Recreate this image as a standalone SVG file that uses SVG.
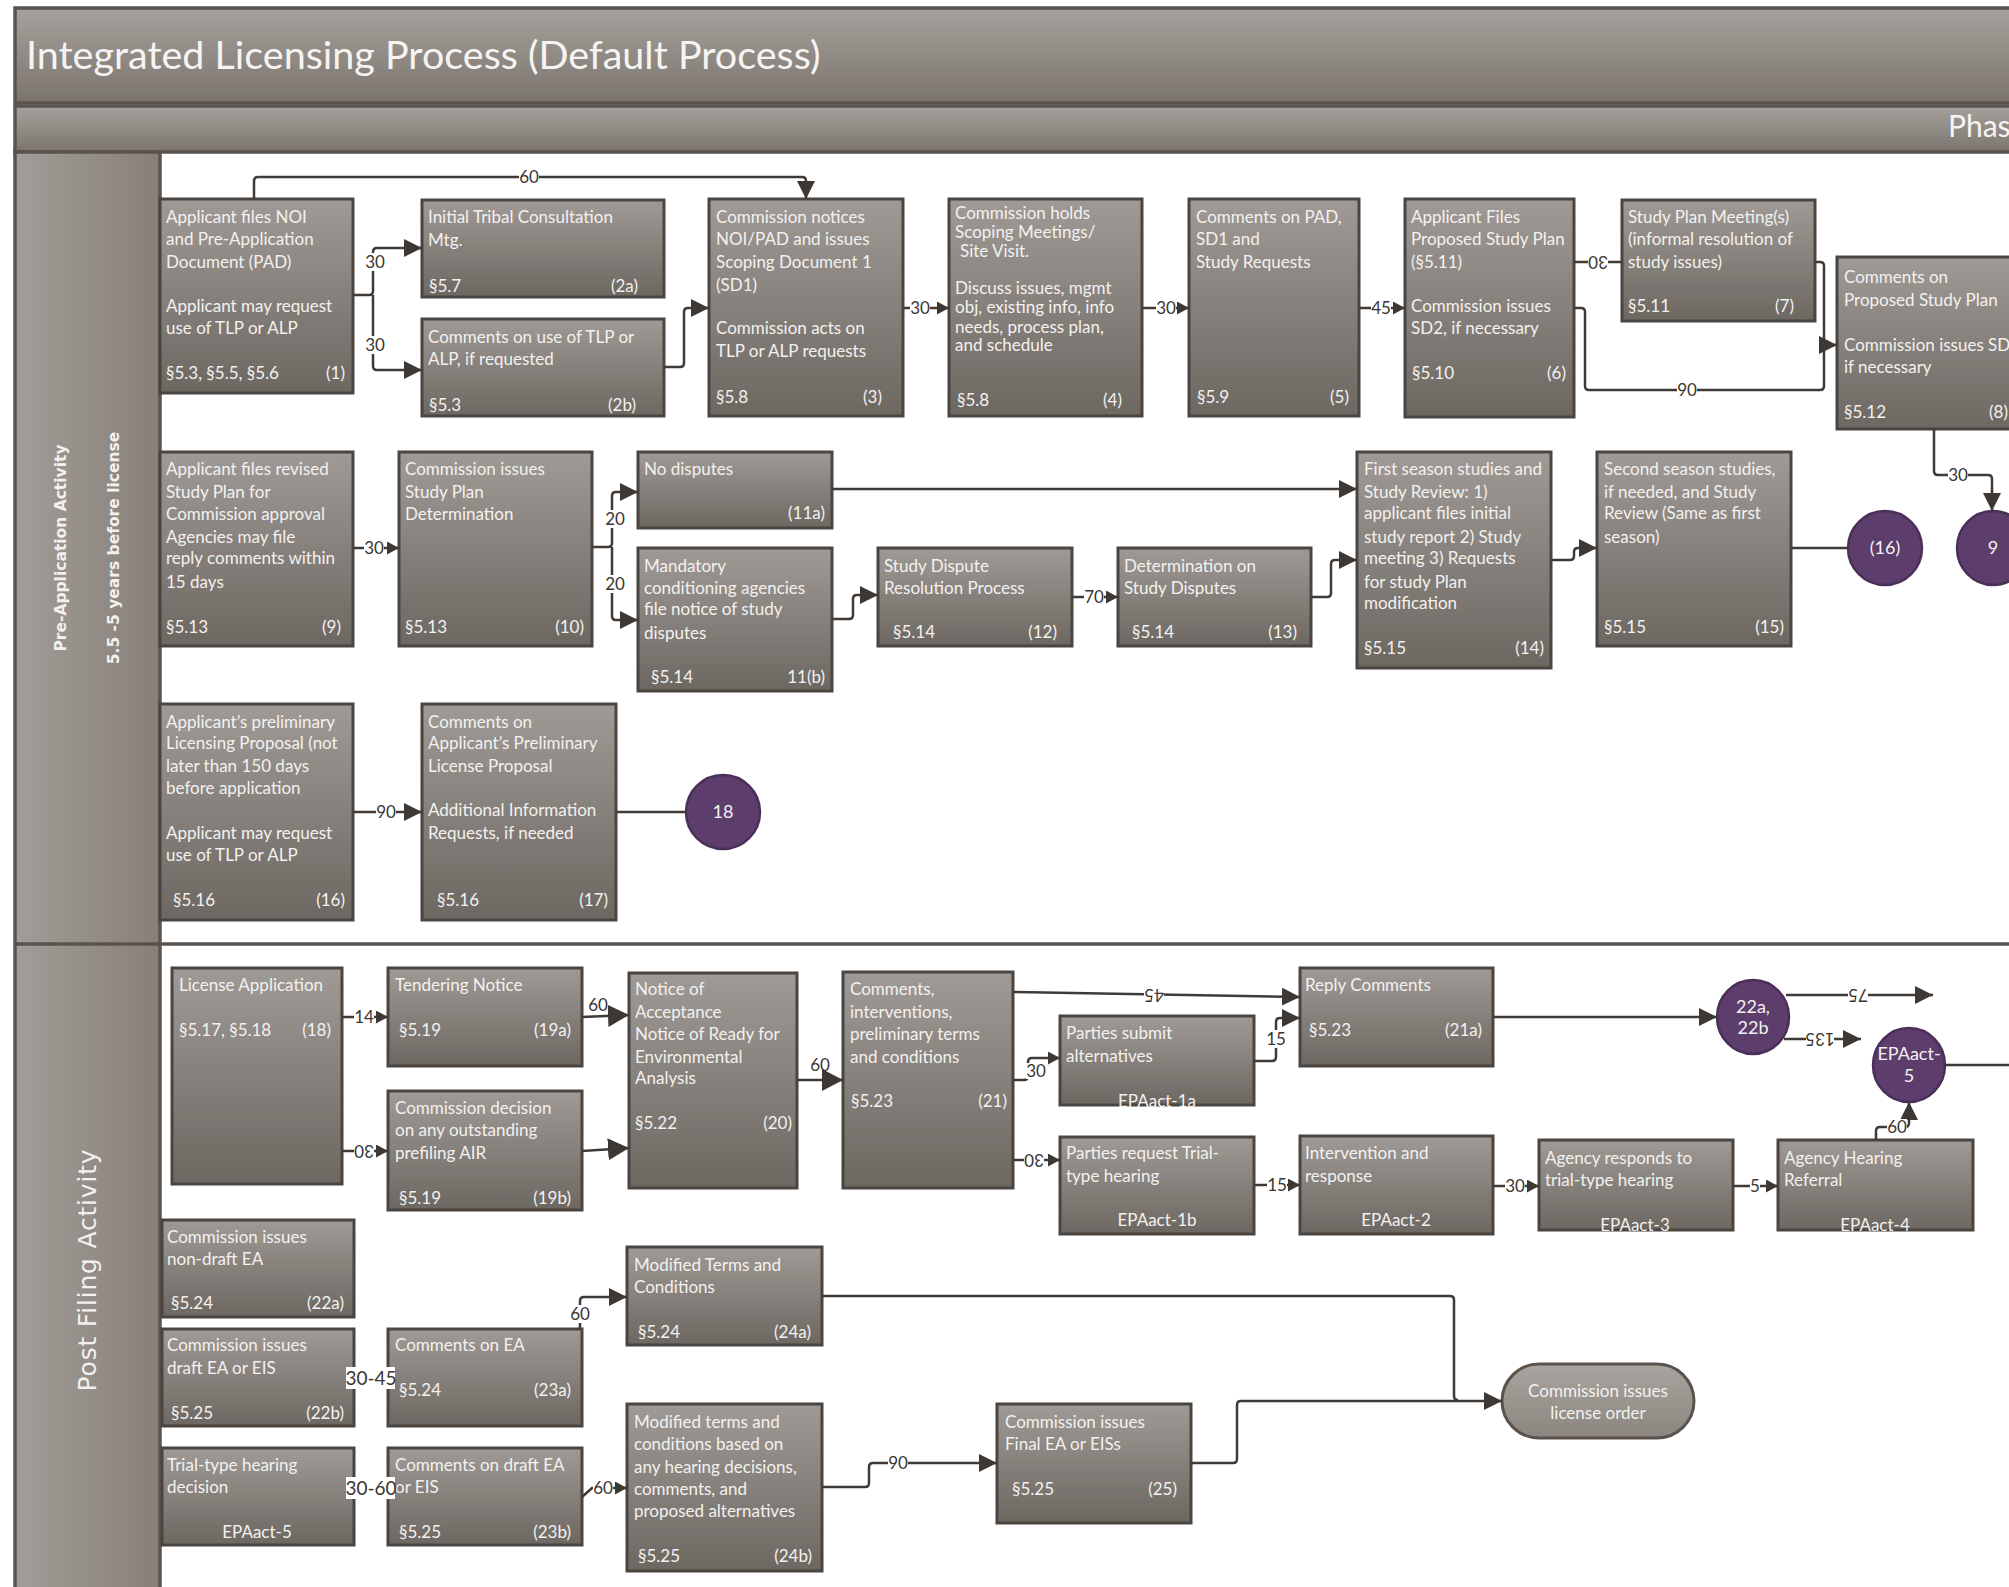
<svg xmlns="http://www.w3.org/2000/svg" width="2009" height="1587" viewBox="0 0 2009 1587">
<defs>
<linearGradient id="gN" x1="0" y1="0" x2="0" y2="1"><stop offset="0" stop-color="#9f9a95"/><stop offset="1" stop-color="#6d6762"/></linearGradient>
<linearGradient id="gT" x1="0" y1="0" x2="0" y2="1"><stop offset="0" stop-color="#a6a19c"/><stop offset="1" stop-color="#7b746e"/></linearGradient>
<linearGradient id="gL" x1="0" y1="0" x2="1" y2="0"><stop offset="0" stop-color="#a29d98"/><stop offset="1" stop-color="#877f7a"/></linearGradient>
<linearGradient id="gO" x1="0" y1="0" x2="0" y2="1"><stop offset="0" stop-color="#a9a49f"/><stop offset="1" stop-color="#8c857f"/></linearGradient>
<marker id="as" viewBox="0 0 12 13" refX="12" refY="6.5" markerWidth="12" markerHeight="13" markerUnits="userSpaceOnUse" orient="auto"><path d="M0,0 L12,6.5 L0,13 z" fill="#3d3834"/></marker>
<marker id="am" viewBox="0 0 18 18" refX="18" refY="9" markerWidth="18" markerHeight="18" markerUnits="userSpaceOnUse" orient="auto"><path d="M0,0 L18,9 L0,18 z" fill="#3d3834"/></marker>
<marker id="ab" viewBox="0 0 21 22" refX="21" refY="11" markerWidth="21" markerHeight="22" markerUnits="userSpaceOnUse" orient="auto"><path d="M0,0 L21,11 L0,22 z" fill="#3d3834"/></marker>
<style>
.n{fill:url(#gN);stroke:#4b4541;stroke-width:3}
.t{font-family:Lato,"Liberation Sans",sans-serif;font-size:17px;fill:#f3f1ef}
.r{text-anchor:end}
.m{text-anchor:middle}
.c{fill:none;stroke:#3f3a36;stroke-width:2.5}
.lb{font-family:Lato,"Liberation Sans",sans-serif;font-size:17px;fill:#3a3532;text-anchor:middle}
.bg{fill:#ffffff}
.ci{fill:#5d3d6c;stroke:#4a2f58;stroke-width:2.5}
.ct{font-family:Lato,"Liberation Sans",sans-serif;font-size:18px;fill:#f3f1ef;text-anchor:middle}
.bar{stroke:#5b534e;stroke-width:3.5}
</style>
</defs>
<rect x="0" y="0" width="2009" height="1587" fill="#ffffff"/>

<g id="frame">
<rect class="bar" x="15" y="8" width="2010" height="95" fill="url(#gT)"/>
<text x="26" y="69" font-family="Lato,'Liberation Sans',sans-serif" font-size="39.5" fill="#f6f4f2">Integrated Licensing Process (Default Process)</text>
<rect class="bar" x="15" y="106" width="2010" height="46" fill="url(#gT)"/>
<text x="1948" y="137" font-family="Lato,'Liberation Sans',sans-serif" font-size="30" fill="#f6f4f2">Phas</text>
<rect class="bar" x="15" y="152" width="145" height="1450" fill="url(#gL)"/>
<line x1="15" y1="944" x2="2009" y2="944" stroke="#5b534e" stroke-width="3.5"/>
<text transform="translate(66,548) rotate(-90)" text-anchor="middle" font-family="'DejaVu Sans',Verdana,sans-serif" font-weight="bold" font-size="15.5" fill="#f3f1ef">Pre-Application Activity</text>
<text transform="translate(119,548) rotate(-90)" text-anchor="middle" font-family="'DejaVu Sans',Verdana,sans-serif" font-weight="bold" font-size="15.5" fill="#f3f1ef">5.5 -5 years before license</text>
<text transform="translate(96,1270) rotate(-90)" text-anchor="middle" font-family="'DejaVu Sans',Verdana,sans-serif" font-size="25" letter-spacing="0.8" fill="#f3f1ef">Post Filing Activity</text>
</g>

<g id="n1"><rect class="n" x="160" y="199" width="193" height="194"/><text class="t"><tspan x="166" y="223">Applicant files NOI</tspan><tspan x="166" y="245">and Pre-Application</tspan><tspan x="166" y="268">Document (PAD)</tspan><tspan x="166" y="312">Applicant may request</tspan><tspan x="166" y="334">use of TLP or ALP</tspan><tspan x="166" y="379">§5.3, §5.5, §5.6</tspan></text><text class="t r" x="345" y="379">(1)</text></g>
<g id="n2a"><rect class="n" x="422" y="200" width="242" height="97"/><text class="t"><tspan x="428" y="223">Initial Tribal Consultation</tspan><tspan x="428" y="246">Mtg.</tspan><tspan x="429" y="292">§5.7</tspan></text><text class="t r" x="638" y="292">(2a)</text></g>
<g id="n2b"><rect class="n" x="422" y="319" width="242" height="97"/><text class="t"><tspan x="428" y="343">Comments on use of TLP or</tspan><tspan x="428" y="365">ALP, if requested</tspan><tspan x="429" y="411">§5.3</tspan></text><text class="t r" x="636" y="411">(2b)</text></g>
<g id="n3"><rect class="n" x="709" y="199" width="194" height="217"/><text class="t"><tspan x="716" y="223">Commission notices</tspan><tspan x="716" y="245">NOI/PAD and issues</tspan><tspan x="716" y="268">Scoping Document 1</tspan><tspan x="716" y="291">(SD1)</tspan><tspan x="716" y="334">Commission acts on</tspan><tspan x="716" y="357">TLP or ALP requests</tspan><tspan x="716" y="403">§5.8</tspan></text><text class="t r" x="882" y="403">(3)</text></g>
<g id="n4"><rect class="n" x="949" y="199" width="193" height="217"/><text class="t"><tspan x="955" y="219">Commission holds</tspan><tspan x="955" y="238">Scoping Meetings/</tspan><tspan x="960" y="257">Site Visit.</tspan><tspan x="955" y="294">Discuss issues, mgmt</tspan><tspan x="955" y="313">obj, existing info, info</tspan><tspan x="955" y="333">needs, process plan,</tspan><tspan x="955" y="351">and schedule</tspan><tspan x="957" y="406">§5.8</tspan></text><text class="t r" x="1122" y="406">(4)</text></g>
<g id="n5"><rect class="n" x="1189" y="199" width="170" height="217"/><text class="t"><tspan x="1196" y="223">Comments on PAD,</tspan><tspan x="1196" y="245">SD1 and</tspan><tspan x="1196" y="268">Study Requests</tspan><tspan x="1197" y="403">§5.9</tspan></text><text class="t r" x="1349" y="403">(5)</text></g>
<g id="n6"><rect class="n" x="1405" y="199" width="169" height="218"/><text class="t"><tspan x="1411" y="223">Applicant Files</tspan><tspan x="1411" y="245">Proposed Study Plan</tspan><tspan x="1411" y="268">(§5.11)</tspan><tspan x="1411" y="312">Commission issues</tspan><tspan x="1411" y="334">SD2, if necessary</tspan><tspan x="1412" y="379">§5.10</tspan></text><text class="t r" x="1566" y="379">(6)</text></g>
<g id="n7"><rect class="n" x="1622" y="200" width="193" height="121"/><text class="t"><tspan x="1628" y="223">Study Plan Meeting(s)</tspan><tspan x="1628" y="245">(informal resolution of</tspan><tspan x="1628" y="268">study issues)</tspan><tspan x="1628" y="312">§5.11</tspan></text><text class="t r" x="1794" y="312">(7)</text></g>
<g id="n8"><rect class="n" x="1837" y="257" width="200" height="172"/><text class="t"><tspan x="1844" y="283">Comments on</tspan><tspan x="1844" y="306">Proposed Study Plan</tspan><tspan x="1844" y="351">Commission issues SD</tspan><tspan x="1844" y="373">if necessary</tspan><tspan x="1844" y="418">§5.12</tspan><tspan x="1989" y="418">(8)</tspan></text></g>
<g id="c16"><ellipse class="ci" cx="1885" cy="548" rx="37" ry="37"/><text class="ct" x="1885" y="554">(16)</text></g>
<g id="c9"><ellipse class="ci" cx="1993" cy="548" rx="36" ry="37"/><text class="ct" x="1993" y="554">9</text></g>

<g id="n9"><rect class="n" x="160" y="452" width="193" height="194"/><text class="t"><tspan x="166" y="475">Applicant files revised</tspan><tspan x="166" y="498">Study Plan for</tspan><tspan x="166" y="520">Commission approval</tspan><tspan x="166" y="543">Agencies may file</tspan><tspan x="166" y="564">reply comments within</tspan><tspan x="166" y="588">15 days</tspan><tspan x="166" y="633">§5.13</tspan></text><text class="t r" x="341" y="633">(9)</text></g>
<g id="n10"><rect class="n" x="399" y="452" width="193" height="194"/><text class="t"><tspan x="405" y="475">Commission issues</tspan><tspan x="405" y="498">Study Plan</tspan><tspan x="405" y="520">Determination</tspan><tspan x="405" y="633">§5.13</tspan></text><text class="t r" x="584" y="633">(10)</text></g>
<g id="n11a"><rect class="n" x="638" y="452" width="194" height="76"/><text class="t" x="644" y="475">No disputes</text><text class="t r" x="825" y="519">(11a)</text></g>
<g id="n11b"><rect class="n" x="638" y="548" width="194" height="143"/><text class="t"><tspan x="644" y="572">Mandatory</tspan><tspan x="644" y="594">conditioning agencies</tspan><tspan x="644" y="615">file notice of study</tspan><tspan x="644" y="639">disputes</tspan><tspan x="651" y="683">§5.14</tspan></text><text class="t r" x="825" y="683">11(b)</text></g>
<g id="n12"><rect class="n" x="878" y="548" width="194" height="98"/><text class="t"><tspan x="884" y="572">Study Dispute</tspan><tspan x="884" y="594">Resolution Process</tspan><tspan x="893" y="638">§5.14</tspan></text><text class="t r" x="1057" y="638">(12)</text></g>
<g id="n13"><rect class="n" x="1118" y="548" width="193" height="98"/><text class="t"><tspan x="1124" y="572">Determination on</tspan><tspan x="1124" y="594">Study Disputes</tspan><tspan x="1132" y="638">§5.14</tspan></text><text class="t r" x="1297" y="638">(13)</text></g>
<g id="n14"><rect class="n" x="1357" y="452" width="194" height="216"/><text class="t"><tspan x="1364" y="475">First season studies and</tspan><tspan x="1364" y="498">Study Review: 1)</tspan><tspan x="1364" y="519">applicant files initial</tspan><tspan x="1364" y="543">study report 2)  Study</tspan><tspan x="1364" y="564">meeting 3) Requests</tspan><tspan x="1364" y="588">for study Plan</tspan><tspan x="1364" y="609">modification</tspan><tspan x="1364" y="654">§5.15</tspan></text><text class="t r" x="1544" y="654">(14)</text></g>
<g id="n15"><rect class="n" x="1597" y="452" width="194" height="194"/><text class="t"><tspan x="1604" y="475">Second season studies,</tspan><tspan x="1604" y="498">if needed, and Study</tspan><tspan x="1604" y="519">Review (Same as first</tspan><tspan x="1604" y="543">season)</tspan><tspan x="1604" y="633">§5.15</tspan></text><text class="t r" x="1784" y="633">(15)</text></g>

<g id="n16"><rect class="n" x="160" y="704" width="193" height="216"/><text class="t"><tspan x="166" y="728">Applicant’s preliminary</tspan><tspan x="166" y="749">Licensing Proposal (not</tspan><tspan x="166" y="772">later than 150 days</tspan><tspan x="166" y="794">before application</tspan><tspan x="166" y="839">Applicant may request</tspan><tspan x="166" y="861">use of TLP or ALP</tspan><tspan x="173" y="906">§5.16</tspan></text><text class="t r" x="345" y="906">(16)</text></g>
<g id="n17"><rect class="n" x="422" y="704" width="194" height="216"/><text class="t"><tspan x="428" y="728">Comments on</tspan><tspan x="428" y="749">Applicant’s Preliminary</tspan><tspan x="428" y="772">License Proposal</tspan><tspan x="428" y="816">Additional Information</tspan><tspan x="428" y="839">Requests, if needed</tspan><tspan x="437" y="906">§5.16</tspan></text><text class="t r" x="608" y="906">(17)</text></g>
<g id="c18"><ellipse class="ci" cx="723" cy="812" rx="37" ry="37"/><text class="ct" x="723" y="818">18</text></g>

<g id="n18"><rect class="n" x="172" y="968" width="170" height="216"/><text class="t"><tspan x="179" y="991">License Application</tspan><tspan x="179" y="1036">§5.17, §5.18</tspan></text><text class="t r" x="331" y="1036">(18)</text></g>
<g id="n19a"><rect class="n" x="388" y="968" width="194" height="98"/><text class="t"><tspan x="395" y="991">Tendering Notice</tspan><tspan x="399" y="1036">§5.19</tspan></text><text class="t r" x="571" y="1036">(19a)</text></g>
<g id="n19b"><rect class="n" x="388" y="1091" width="194" height="119"/><text class="t"><tspan x="395" y="1114">Commission decision</tspan><tspan x="395" y="1136">on any outstanding</tspan><tspan x="395" y="1159">prefiling AIR</tspan><tspan x="399" y="1204">§5.19</tspan></text><text class="t r" x="571" y="1204">(19b)</text></g>
<g id="n20"><rect class="n" x="629" y="973" width="168" height="215"/><text class="t"><tspan x="635" y="995">Notice of</tspan><tspan x="635" y="1018">Acceptance</tspan><tspan x="635" y="1040">Notice of Ready for</tspan><tspan x="635" y="1063">Environmental</tspan><tspan x="635" y="1084">Analysis</tspan><tspan x="635" y="1129">§5.22</tspan></text><text class="t r" x="792" y="1129">(20)</text></g>
<g id="n21"><rect class="n" x="843" y="972" width="170" height="216"/><text class="t"><tspan x="850" y="995">Comments,</tspan><tspan x="850" y="1018">interventions,</tspan><tspan x="850" y="1040">preliminary terms</tspan><tspan x="850" y="1063">and conditions</tspan><tspan x="851" y="1107">§5.23</tspan></text><text class="t r" x="1007" y="1107">(21)</text></g>
<g id="n21a"><rect class="n" x="1300" y="968" width="193" height="98"/><text class="t"><tspan x="1305" y="991">Reply Comments</tspan><tspan x="1309" y="1036">§5.23</tspan></text><text class="t r" x="1482" y="1036">(21a)</text></g>
<g id="e1a"><rect class="n" x="1060" y="1016" width="194" height="89"/><text class="t"><tspan x="1066" y="1039">Parties submit</tspan><tspan x="1066" y="1062">alternatives</tspan></text><text class="t m" x="1157" y="1107">EPAact-1a</text></g>
<g id="e1b"><rect class="n" x="1060" y="1137" width="194" height="97"/><text class="t"><tspan x="1066" y="1159">Parties request Trial-</tspan><tspan x="1066" y="1182">type hearing</tspan></text><text class="t m" x="1157" y="1226">EPAact-1b</text></g>
<g id="e2"><rect class="n" x="1300" y="1136" width="193" height="98"/><text class="t"><tspan x="1305" y="1159">Intervention and</tspan><tspan x="1305" y="1182">response</tspan></text><text class="t m" x="1396" y="1226">EPAact-2</text></g>
<g id="e3"><rect class="n" x="1539" y="1140" width="194" height="90"/><text class="t"><tspan x="1545" y="1164">Agency responds to</tspan><tspan x="1545" y="1186">trial-type hearing</tspan></text><text class="t m" x="1635" y="1231">EPAact-3</text></g>
<g id="e4"><rect class="n" x="1778" y="1140" width="195" height="90"/><text class="t"><tspan x="1784" y="1164">Agency Hearing</tspan><tspan x="1784" y="1186">Referral</tspan></text><text class="t m" x="1875" y="1231">EPAact-4</text></g>
<g id="c22"><ellipse class="ci" cx="1753" cy="1017" rx="36" ry="37"/><text class="ct"><tspan x="1753" y="1013">22a,</tspan><tspan x="1753" y="1034">22b</tspan></text></g>
<g id="e5"><ellipse class="ci" cx="1909" cy="1065" rx="36" ry="37"/><text class="ct"><tspan x="1909" y="1060">EPAact-</tspan><tspan x="1909" y="1082">5</tspan></text></g>

<g id="n22a"><rect class="n" x="162" y="1220" width="192" height="97"/><text class="t"><tspan x="167" y="1243">Commission issues</tspan><tspan x="167" y="1265">non-draft EA</tspan><tspan x="171" y="1309">§5.24</tspan></text><text class="t r" x="344" y="1309">(22a)</text></g>
<g id="n22b"><rect class="n" x="162" y="1329" width="192" height="97"/><text class="t"><tspan x="167" y="1351">Commission issues</tspan><tspan x="167" y="1374">draft EA or EIS</tspan><tspan x="171" y="1419">§5.25</tspan></text><text class="t r" x="344" y="1419">(22b)</text></g>
<g id="nt"><rect class="n" x="162" y="1448" width="192" height="97"/><text class="t"><tspan x="167" y="1471">Trial-type hearing</tspan><tspan x="167" y="1493">decision</tspan></text><text class="t m" x="257" y="1538">EPAact-5</text></g>
<g id="n23a"><rect class="n" x="388" y="1329" width="194" height="97"/><text class="t"><tspan x="395" y="1351">Comments on EA</tspan><tspan x="399" y="1396">§5.24</tspan></text><text class="t r" x="571" y="1396">(23a)</text></g>
<g id="n23b"><rect class="n" x="388" y="1448" width="194" height="97"/><text class="t"><tspan x="395" y="1471">Comments on draft EA</tspan><tspan x="395" y="1493">or EIS</tspan><tspan x="399" y="1538">§5.25</tspan></text><text class="t r" x="571" y="1538">(23b)</text></g>
<g id="n24a"><rect class="n" x="627" y="1247" width="195" height="98"/><text class="t"><tspan x="634" y="1271">Modified Terms and</tspan><tspan x="634" y="1293">Conditions</tspan><tspan x="638" y="1338">§5.24</tspan></text><text class="t r" x="811" y="1338">(24a)</text></g>
<g id="n24b"><rect class="n" x="627" y="1404" width="195" height="167"/><text class="t"><tspan x="634" y="1428">Modified terms and</tspan><tspan x="634" y="1450">conditions based on</tspan><tspan x="634" y="1473">any hearing decisions,</tspan><tspan x="634" y="1495">comments, and</tspan><tspan x="634" y="1517">proposed alternatives</tspan><tspan x="638" y="1562">§5.25</tspan></text><text class="t r" x="812" y="1562">(24b)</text></g>
<g id="n25"><rect class="n" x="997" y="1404" width="194" height="119"/><text class="t"><tspan x="1005" y="1428">Commission issues</tspan><tspan x="1005" y="1450">Final EA or EISs</tspan><tspan x="1012" y="1495">§5.25</tspan></text><text class="t r" x="1177" y="1495">(25)</text></g>
<g id="order"><rect x="1502" y="1364" width="192" height="74" rx="37" ry="37" fill="url(#gO)" stroke="#59524d" stroke-width="3"/><text class="t m"><tspan x="1598" y="1397">Commission issues</tspan><tspan x="1598" y="1419">license order</tspan></text></g>

<g id="connectors">
<path class="c" d="M353,295 H369 Q373,295 373,291 V252 Q373,248 377,248 H422" marker-end="url(#am)"/>
<path class="c" d="M373,295 V366 Q373,370 377,370 H422" marker-end="url(#am)"/>
<path class="c" d="M254,199 V181 Q254,177 258,177 H802 Q806,177 806,181 V199" marker-end="url(#am)"/>
<path class="c" d="M664,367 H680 Q684,367 684,363 V312 Q684,308 688,308 H709" marker-end="url(#am)"/>
<path class="c" d="M903,308 H949" marker-end="url(#as)"/>
<path class="c" d="M1142,308 H1189" marker-end="url(#as)"/>
<path class="c" d="M1359,308 H1405" marker-end="url(#as)"/>
<path class="c" d="M1574,262 H1622"/>
<path class="c" d="M1815,262 H1820 Q1824,262 1824,266 V345 H1837" marker-end="url(#am)"/>
<path class="c" d="M1574,308 H1581 Q1585,308 1585,312 V386 Q1585,390 1589,390 H1820 Q1824,390 1824,386 V345"/>
<path class="c" d="M1934,429 V471 Q1934,475 1938,475 H1988 Q1992,475 1992,479 V511" marker-end="url(#am)"/>
<path class="c" d="M353,548 H399" marker-end="url(#as)"/>
<path class="c" d="M592,547 H608 Q612,547 612,543 V496 Q612,492 616,492 H638" marker-end="url(#am)"/>
<path class="c" d="M612,547 V616 Q612,620 616,620 H638" marker-end="url(#am)"/>
<path class="c" d="M832,489 H1357" marker-end="url(#am)"/>
<path class="c" d="M832,619 H849 Q853,619 853,615 V599 Q853,595 857,595 H878" marker-end="url(#am)"/>
<path class="c" d="M1072,597 H1118" marker-end="url(#as)"/>
<path class="c" d="M1311,597 H1327 Q1331,597 1331,593 V564 Q1331,560 1335,560 H1357" marker-end="url(#am)"/>
<path class="c" d="M1551,560 H1570 Q1574,560 1574,556 V552 Q1574,548 1578,548 H1597" marker-end="url(#am)"/>
<path class="c" d="M1791,548 H1848"/>
<path class="c" d="M353,812 H422" marker-end="url(#am)"/>
<path class="c" d="M616,812 H686"/>
<path class="c" d="M342,1017 H388" marker-end="url(#as)"/>
<path class="c" d="M342,1151 H388" marker-end="url(#as)"/>
<path class="c" d="M582,1017 L629,1015" marker-end="url(#ab)"/>
<path class="c" d="M582,1151 L629,1148" marker-end="url(#ab)"/>
<path class="c" d="M797,1080 H843" marker-end="url(#ab)"/>
<path class="c" d="M1013,992 L1300,997" marker-end="url(#am)"/>
<path class="c" d="M1013,1080 H1024 Q1028,1080 1028,1076 V1062 Q1028,1058 1032,1058 H1060" marker-end="url(#as)"/>
<path class="c" d="M1254,1061 H1272 Q1276,1061 1276,1057 V1022 Q1276,1018 1280,1018 H1300" marker-end="url(#am)"/>
<path class="c" d="M1013,1160 H1060" marker-end="url(#as)"/>
<path class="c" d="M1254,1185 H1300" marker-end="url(#as)"/>
<path class="c" d="M1493,1186 H1539" marker-end="url(#as)"/>
<path class="c" d="M1733,1186 H1778" marker-end="url(#as)"/>
<path class="c" d="M1876,1140 V1131 Q1876,1127 1880,1127 H1905 Q1909,1127 1909,1123 V1102" marker-end="url(#am)"/>
<path class="c" d="M1945,1065 H2009"/>
<path class="c" d="M1493,1017 H1717" marker-end="url(#am)"/>
<path class="c" d="M1786,995 H1933" marker-end="url(#am)"/>
<path class="c" d="M1784,1039 H1861" marker-end="url(#am)"/>
<path class="c" d="M354,1378 H388"/>
<path class="c" d="M354,1488 H388"/>
<path class="c" d="M580,1329 V1301 Q580,1297 584,1297 H627" marker-end="url(#am)"/>
<path class="c" d="M582,1497 L592,1488 H627" marker-end="url(#as)"/>
<path class="c" d="M822,1296 H1450 Q1454,1296 1454,1300 V1396 Q1454,1400 1458,1400"/>
<path class="c" d="M1191,1463 H1233 Q1237,1463 1237,1459 V1405 Q1237,1401 1241,1401 H1502" marker-end="url(#am)"/>
<path class="c" d="M822,1487 H865 Q869,1487 869,1483 V1467 Q869,1463 873,1463 H997" marker-end="url(#am)"/>

<rect class="bg" x="365" y="253" width="20" height="18"/><text class="lb" x="375" y="268">30</text>
<rect class="bg" x="365" y="336" width="20" height="18"/><text class="lb" x="375" y="351">30</text>
<rect class="bg" x="519" y="169" width="20" height="16"/><text class="lb" x="529" y="183">60</text>
<rect class="bg" x="910" y="300" width="20" height="16"/><text class="lb" x="920" y="314">30</text>
<rect class="bg" x="1156" y="300" width="20" height="16"/><text class="lb" x="1166" y="314">30</text>
<rect class="bg" x="1371" y="300" width="20" height="16"/><text class="lb" x="1381" y="314">45</text>
<rect class="bg" x="1588" y="254" width="20" height="16"/><text class="lb" x="1598" y="268" transform="rotate(180 1598 262)">30</text>
<rect class="bg" x="1677" y="382" width="20" height="16"/><text class="lb" x="1687" y="396">90</text>
<rect class="bg" x="1948" y="467" width="20" height="16"/><text class="lb" x="1958" y="481">30</text>
<rect class="bg" x="364" y="540" width="20" height="16"/><text class="lb" x="374" y="554">30</text>
<rect class="bg" x="605" y="510" width="20" height="18"/><text class="lb" x="615" y="525">20</text>
<rect class="bg" x="605" y="575" width="20" height="18"/><text class="lb" x="615" y="590">20</text>
<rect class="bg" x="1084" y="589" width="20" height="16"/><text class="lb" x="1094" y="603">70</text>
<rect class="bg" x="376" y="804" width="20" height="16"/><text class="lb" x="386" y="818">90</text>
<rect class="bg" x="354" y="1009" width="20" height="16"/><text class="lb" x="364" y="1023">14</text>
<rect class="bg" x="354" y="1143" width="20" height="16"/><text class="lb" x="364" y="1157" transform="rotate(180 364 1151)">30</text>
<text class="lb" x="598" y="1011">60</text>
<text class="lb" x="820" y="1071">60</text>
<rect class="bg" x="1144" y="987" width="20" height="16"/><text class="lb" x="1154" y="1001" transform="rotate(180 1154 995)">45</text>
<rect class="bg" x="1026" y="1063" width="20" height="16"/><text class="lb" x="1036" y="1077">30</text>
<rect class="bg" x="1266" y="1030" width="20" height="18"/><text class="lb" x="1276" y="1045">15</text>
<rect class="bg" x="1024" y="1152" width="20" height="16"/><text class="lb" x="1034" y="1166" transform="rotate(180 1034 1160)">30</text>
<rect class="bg" x="1267" y="1177" width="20" height="16"/><text class="lb" x="1277" y="1191">15</text>
<rect class="bg" x="1505" y="1178" width="20" height="16"/><text class="lb" x="1515" y="1192">30</text>
<rect class="bg" x="1750" y="1178" width="10" height="16"/><text class="lb" x="1755" y="1192">5</text>
<rect class="bg" x="1887" y="1119" width="20" height="16"/><text class="lb" x="1897" y="1133">60</text>
<rect class="bg" x="1848" y="987" width="20" height="16"/><text class="lb" x="1858" y="1001" transform="rotate(180 1858 995)">75</text>
<rect class="bg" x="1806" y="1031" width="28" height="16"/><text class="lb" x="1820" y="1045" transform="rotate(180 1820 1039)">135</text>
<rect class="bg" x="346" y="1367" width="49" height="22"/><text class="lb" x="371" y="1385" style="font-size:19px">30-45</text>
<rect class="bg" x="346" y="1477" width="49" height="22"/><text class="lb" x="371" y="1495" style="font-size:19px">30-60</text>
<rect class="bg" x="570" y="1305" width="20" height="18"/><text class="lb" x="580" y="1320">60</text>
<rect class="bg" x="593" y="1480" width="20" height="16"/><text class="lb" x="603" y="1494">60</text>
<rect class="bg" x="888" y="1455" width="20" height="16"/><text class="lb" x="898" y="1469">90</text>
</g>
</svg>
